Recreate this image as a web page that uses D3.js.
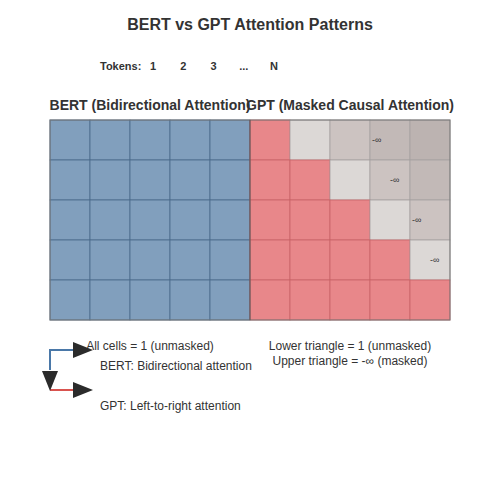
<!DOCTYPE html>
<html><head><meta charset="utf-8"><script src="https://cdn.jsdelivr.net/npm/d3@7"></script>
<style>body{margin:0;background:#fff}</style></head><body><script>
const tokens=["1","2","3","...","N"];
const rows=[0,1,2,3,4], cols=[0,1,2,3,4];
// GPT mask: 1 = unmasked, otherwise distance above diagonal (masked)
const gptMask=[[0,1,2,3,4],[0,0,1,2,3],[0,0,0,1,2],[0,0,0,0,1],[0,0,0,0,0]];
const infLabels=[[0,3,0.05],[1,3,0.5],[2,4,0.05],[3,4,0.5]];
const W=500,H=500;
const svg=d3.select("body").append("svg").attr("width",W).attr("height",H).style("font-family","Liberation Sans, Arial, sans-serif");
svg.append("text").attr("x",250).attr("y",30).attr("text-anchor","middle").attr("font-size",16).attr("font-weight","bold").attr("fill","#333").text("BERT vs GPT Attention Patterns");
const tx=d3.scalePoint().domain(tokens).range([153,274]);
svg.append("text").attr("x",100).attr("y",70).attr("font-size",11).attr("font-weight","bold").attr("fill","#333").text("Tokens:");
svg.selectAll(".tok").data(tokens).join("text").attr("x",d=>tx(d)).attr("y",70).attr("text-anchor","middle").attr("font-size",11).attr("font-weight","bold").attr("fill","#333").text(d=>d);
const bx=d3.scaleBand().domain(cols).range([50,250]).padding(0);
const gx=d3.scaleBand().domain(cols).range([250,450]).padding(0);
const y=d3.scaleBand().domain(rows).range([120,320]).padding(0);
const cells=[];rows.forEach(r=>cols.forEach(c=>cells.push({r,c})));
svg.selectAll(".b").data(cells).join("rect").attr("x",d=>bx(d.c)).attr("y",d=>y(d.r)).attr("width",bx.bandwidth()).attr("height",y.bandwidth()).attr("fill","#819fbd").attr("stroke","#4a6a8a").attr("stroke-width",0.8);
const maskCol=d3.scaleOrdinal().domain([1,2,3,4]).range(["#dcd8d6","#ccc3c1","#c2b9b7","#bcb3b1"]);
svg.selectAll(".g").data(cells).join("rect").attr("x",d=>gx(d.c)).attr("y",d=>y(d.r)).attr("width",gx.bandwidth()).attr("height",y.bandwidth()).attr("fill",d=>gptMask[d.r][d.c]?maskCol(gptMask[d.r][d.c]):"#e8878a").attr("stroke",d=>gptMask[d.r][d.c]?"#a5a0a0":"#c96366").attr("stroke-width",0.8);
svg.selectAll(".inf").data(infLabels).join("text").attr("x",d=>gx(d[1])+gx.bandwidth()*d[2]).attr("y",d=>y(d[0])+20).attr("dy","0.35em").attr("font-size",9).attr("fill","#333").text("-∞");
svg.append("rect").attr("x",50).attr("y",120).attr("width",400).attr("height",200).attr("fill","none").attr("stroke","#777").attr("stroke-width",1);
svg.append("line").attr("x1",250).attr("x2",250).attr("y1",120).attr("y2",320).attr("stroke","#555").attr("stroke-width",1);
svg.append("text").attr("x",150).attr("y",110).attr("text-anchor","middle").attr("font-size",14).attr("font-weight","bold").attr("fill","#333").text("BERT (Bidirectional Attention)");
svg.append("text").attr("x",350).attr("y",110).attr("text-anchor","middle").attr("font-size",14).attr("font-weight","bold").attr("fill","#333").text("GPT (Masked Causal Attention)");
const ft=(x,y,t,a)=>svg.append("text").attr("x",x).attr("y",y).attr("text-anchor",a||"start").attr("font-size",12).attr("fill","#333").text(t);
ft(150,350,"All cells = 1 (unmasked)","middle");
ft(100,370,"BERT: Bidirectional attention");
ft(100,410,"GPT: Left-to-right attention");
ft(350,350,"Lower triangle = 1 (unmasked)","middle");
ft(350,365,"Upper triangle = -∞ (masked)","middle");
const arrow=(pts,col,tip)=>{svg.append("path").attr("d",d3.line()(pts)).attr("fill","none").attr("stroke",col).attr("stroke-width",2);};
arrow([[50,370],[50,350],[75,350]],"#4a78a8");
arrow([[50,390],[75,390]],"#d9534f");
const tri=(x,y,dir)=>{const p=dir==="r"?[[x-18,y-8],[x+2,y],[x-18,y+8]]:[[x-8,y-20],[x+8,y-20],[x,y]];svg.append("path").attr("d",d3.line()(p)+"Z").attr("fill","#2b2b2b");};
tri(91,350,"r");tri(91,390,"r");tri(50,391,"d");
</script></body></html>
